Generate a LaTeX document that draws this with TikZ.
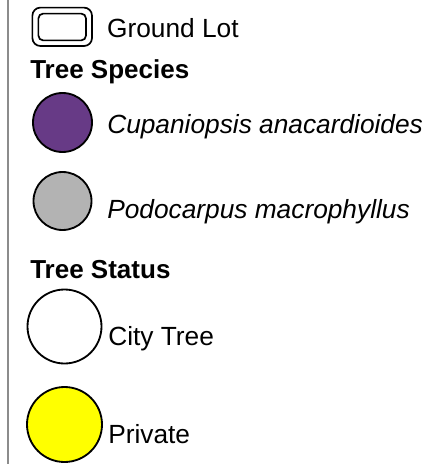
\documentclass[tikz,border=0pt]{standalone}
\usepackage{fontspec}
\setmainfont{Liberation Sans}
\usepackage{tikz}
\usetikzlibrary{positioning}
\definecolor{edge}{HTML}{8C8C8C}
\definecolor{cupan}{HTML}{673A86}
\definecolor{podoc}{HTML}{B3B3B3}
\definecolor{priv}{HTML}{FFFF00}

\begin{document}
\begin{tikzpicture}[x=1cm,y=1cm,
  lab/.style={font=\fontsize{18.7}{22}\selectfont,text=black,inner sep=0pt,anchor=base west},
  head/.style={font=\bfseries\fontsize{18.5}{22}\selectfont,text=black,inner sep=0pt,anchor=base west},
  swatch/.style={circle,draw=black,line width=1.3pt,inner sep=0pt}]
\useasboundingbox (0,0) rectangle (10.85,-11.6);
\draw[edge,line width=1.1pt] (0.2,0.1) -- (0.2,-11.7);
% ground lot
\draw[line width=1.2pt,rounded corners=0.2cm] (0.81,-0.19) rectangle (2.30,-1.15);
\draw[line width=1.2pt,rounded corners=0.12cm] (0.96,-0.34) rectangle (2.15,-1.01);
\node[lab] (lot) at (2.67,-0.93) {Ground Lot};
% species
\node[head] (spec) at (0.75,-1.965) {Tree Species};
\node[swatch,fill=cupan,minimum size=1.475cm] (cup) at (1.5625,-3.0625) {};
\node[lab,font=\itshape\fontsize{18.7}{22}\selectfont] (cuptxt) at (2.675,-3.34) {Cupaniopsis anacardioides};
\node[swatch,fill=podoc,minimum size=1.45cm] (pod) at (1.5625,-5.025) {};
\node[lab,font=\itshape\fontsize{18.7}{22}\selectfont] (podtxt) at (2.675,-5.465) {Podocarpus macrophyllus};
% status
\node[head] (stat) at (0.75,-6.965) {Tree Status};
\node[swatch,fill=white,minimum size=1.85cm] (city) at (1.6125,-8.1625) {};
\node[lab] (citytxt) at (2.70,-8.64) {City Tree};
\node[swatch,fill=priv,minimum size=1.875cm] (pvt) at (1.6125,-10.6125) {};
\node[lab] (pvttxt) at (2.70,-11.09) {Private};
\end{tikzpicture}
\end{document}
